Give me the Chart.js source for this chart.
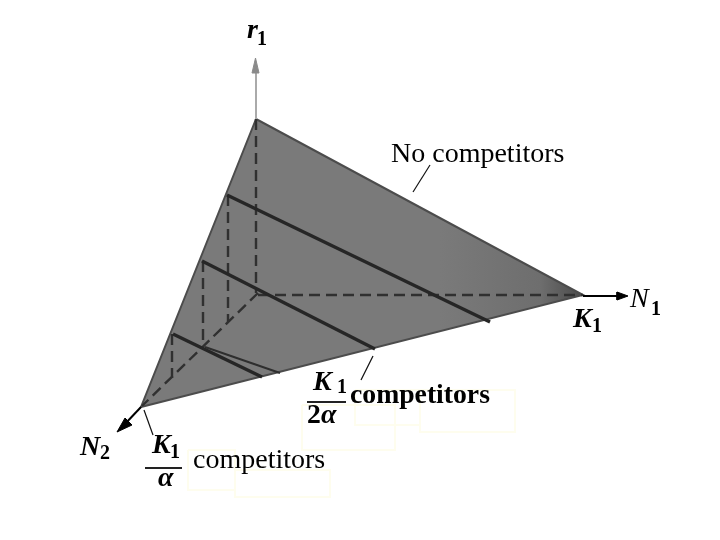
<!DOCTYPE html>
<html>
<head>
<meta charset="utf-8">
<title>Niche plane</title>
<script src="https://cdn.jsdelivr.net/npm/chart.js@4"></script>
<style>
  html, body { margin: 0; padding: 0; background: #fff; }
  canvas { display: block; }
</style>
</head>
<body>
<canvas id="chart" width="720" height="540"></canvas>
<script>
const triangle = [[256, 119], [583, 295], [141, 407], [256, 119]];

const solidLines = [
  [[227, 195], [490, 322]],
  [[202, 261], [375, 349]],
  [[173, 334], [262, 377]]
];
const thinLine = [[205, 347], [280, 373]];

const dashedLines = [
  [[256, 119], [256, 293]],
  [[228, 195], [228, 322]],
  [[203, 261], [203, 347]],
  [[172, 334], [172, 378]],
  [[258, 295], [583, 295]],
  [[258, 293], [142, 406]]
];

const r1Axis = [[256, 119], [256, 65]];
const r1Head = [[255.5, 58], [252, 73], [259, 73], [255.5, 58]];
const n1Axis = [[583, 296], [620, 296]];
const n1Head = [[628, 296], [617, 292], [617, 300], [628, 296]];
const n2Axis = [[141, 407], [124, 425]];
const n2Head = [[117, 432], [125, 418], [132, 425], [117, 432]];

const leaders = [
  [[413, 192], [430, 165]],
  [[361, 380], [373, 356]],
  [[144, 410], [153, 435]]
];
const fractionBars = [
  [[307, 402], [346, 402]],
  [[145, 468], [182, 468]]
];
const paleBoxes = [
  [[188, 450], [235, 450], [235, 490], [188, 490], [188, 450]],
  [[235, 470], [330, 470], [330, 497], [235, 497], [235, 470]],
  [[302, 405], [395, 405], [395, 450], [302, 450], [302, 405]],
  [[355, 390], [420, 390], [420, 425], [355, 425], [355, 390]],
  [[420, 390], [515, 390], [515, 432], [420, 432], [420, 390]]
];

const labelTexts = ['r', '1', 'N', '1', 'K', '1', 'N', '2', 'K', '1', 'α', 'K', '1', '2', 'α',
  'No competitors', 'competitors', 'competitors'];
const labelX = [247, 257, 630, 651, 573, 592, 80, 100, 152, 170, 158, 313, 337, 307, 321, 391, 350, 193];
const labelY = [38, 45, 307, 315, 327, 332, 455, 459, 453, 458, 486, 390, 393, 423, 423, 162, 403, 468];
const labelFonts = ['big', 'sub', 'italic', 'sub', 'big', 'sub', 'big', 'sub', 'big', 'sub', 'big', 'big', 'sub',
  'bold', 'big', 'plain', 'bold', 'plain'];

const fonts = {
  big: 'italic bold 28px "Liberation Serif"',
  italic: 'italic 28px "Liberation Serif"',
  sub: 'bold 20px "Liberation Serif"',
  bold: 'bold 27.7px "Liberation Serif"',
  plain: '28px "Liberation Serif"'
};

const toPoints = pts => pts.map(p => ({ x: p[0], y: p[1] }));

const stroke = (pts, color, width, dash) => ({
  data: toPoints(pts),
  showLine: true,
  pointRadius: 0,
  borderColor: color,
  borderWidth: width,
  borderDash: dash || [],
  fill: false
});

const shape = (pts, fillColor, lineColor, width) => ({
  data: toPoints(pts),
  showLine: true,
  pointRadius: 0,
  borderColor: lineColor,
  borderWidth: width,
  backgroundColor: fillColor,
  fill: 'shape'
});

const ctx = document.getElementById('chart').getContext('2d');

// the scan gets darker toward the K1 corner
const triangleFill = ctx.createLinearGradient(440, 0, 583, 0);
triangleFill.addColorStop(0, '#7a7a7a');
triangleFill.addColorStop(0.7, '#6e6e6e');
triangleFill.addColorStop(1, '#4a4a4a');

// first dataset ends up on top
const datasets = [
  ...leaders.map(l => stroke(l, '#111', 1.2)),
  ...fractionBars.map(l => stroke(l, '#222', 2)),
  shape(n2Head, '#000', '#000', 1),
  stroke(n2Axis, '#000', 2),
  shape(n1Head, '#000', '#000', 1),
  stroke(n1Axis, '#000', 2),
  shape(r1Head, '#8a8a8a', '#8a8a8a', 1),
  stroke(r1Axis, '#aaa', 2),
  ...solidLines.map(l => stroke(l, '#262626', 3.4)),
  stroke(thinLine, '#2e2e2e', 2),
  ...dashedLines.map(l => stroke(l, '#303030', 2.4, [11, 6])),
  shape(triangle, triangleFill, '#4c4c4c', 2),
  ...paleBoxes.map(b => stroke(b, '#fefdee', 2))
];

const textPlugin = {
  id: 'pictureText',
  afterDatasetsDraw(chart) {
    const { ctx, scales } = chart;
    ctx.save();
    ctx.fillStyle = '#000';
    ctx.textBaseline = 'alphabetic';
    ctx.textAlign = 'left';
    labelTexts.forEach((text, i) => {
      ctx.font = fonts[labelFonts[i]];
      ctx.fillText(text, scales.x.getPixelForValue(labelX[i]), scales.y.getPixelForValue(labelY[i]));
    });
    ctx.restore();
  }
};

new Chart(ctx, {
  type: 'scatter',
  data: { datasets },
  plugins: [textPlugin],
  options: {
    responsive: false,
    animation: false,
    layout: { padding: 0 },
    plugins: { legend: { display: false }, tooltip: { enabled: false } },
    scales: {
      x: { type: 'linear', min: 0, max: 720, display: false },
      y: { type: 'linear', min: 0, max: 540, reverse: true, display: false }
    }
  }
});
</script>
</body>
</html>
